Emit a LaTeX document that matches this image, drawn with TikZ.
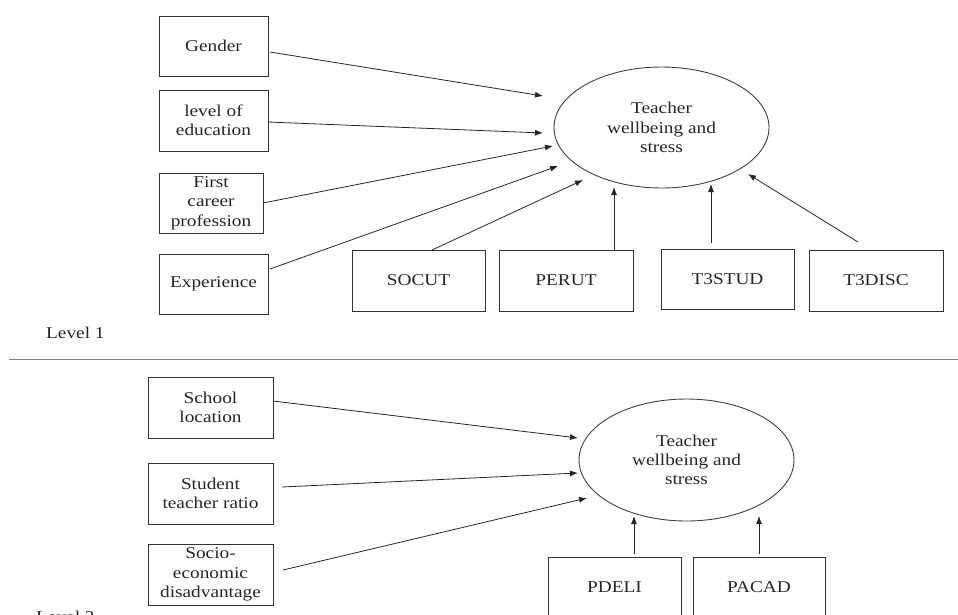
\documentclass[tikz,border=0pt]{standalone}
\usepackage{fontspec}
\setmainfont{Liberation Serif}[FakeStretch=1.17]
\usetikzlibrary{arrows.meta,calc,shapes.geometric}
\begin{document}
\begin{tikzpicture}[x=1pt,y=-1pt,
  every node/.style={font=\fontsize{16.5}{19.3}\selectfont, text=black!85},
  box/.style={draw=black!80, line width=0.9pt, rectangle, inner sep=0pt, outer sep=0pt, align=center},
  latent/.style={draw=black!75, line width=0.9pt, ellipse, inner sep=0pt, outer sep=0pt, align=center, minimum width=215pt, minimum height=121pt},
  arr/.style={draw=black!85, line width=0.8pt, -{Latex[length=8pt,width=6pt]}},
  lvl/.style={anchor=base west, inner sep=0pt}]
\useasboundingbox (0,0) rectangle (958,614);
\clip (0,0) rectangle (958,614);

% Level 1
\node[box, minimum width=109pt, minimum height=60pt] (gender) at (213.5,46) {Gender};
\node[box, minimum width=109pt, minimum height=61pt] (edu) at (213.5,120.5) {level of\\education};
\node[box, minimum width=104pt, minimum height=60pt] (first) at (211,203) {First\\career\\profession};
\node[box, minimum width=109pt, minimum height=60pt] (exp) at (213.5,284) {Experience};
\node[box, minimum width=133pt, minimum height=61pt] (socut) at (418.5,280.5) {SOCUT};
\node[box, minimum width=134pt, minimum height=61pt] (perut) at (566,280.5) {PERUT};
\node[box, minimum width=133pt, minimum height=60pt] (t3stud) at (727.5,279) {T3STUD};
\node[box, minimum width=134pt, minimum height=61pt] (t3disc) at (876,280.5) {T3DISC};
\node[latent] (e1) at (661.5,127.5) {Teacher\\wellbeing and\\stress};

\draw[arr] ($(gender.east)+(2,6)$) -- ($(e1.center)+(-118.5,-31.5)$);
\draw[arr] ($(edu.east)+(0,1.5)$) -- ($(e1.center)+(-118.5,5.5)$);
\draw[arr] (first.east) -- ($(e1.center)+(-108.5,18.5)$);
\draw[arr] ($(exp.east)+(2,-15)$) -- ($(e1.center)+(-103.5,38.5)$);
\draw[arr] ($(socut.north)+(13.5,0)$) -- ($(e1.center)+(-78.5,52.5)$);
\draw[arr] ($(perut.north)+(48,0)$) -- ($(e1.center)+(-47.5,59.5)$);
\draw[arr] ($(t3stud.north)+(-16.5,-6)$) -- ($(e1.center)+(49.5,56.5)$);
\draw[arr] ($(t3disc.north)+(-18,-8)$) -- ($(e1.center)+(86.5,46.5)$);

\node[lvl] (lv1) at (46,338) {Level 1};

% separator
\draw[draw=black!50, line width=1.4pt] (9,359.5) -- (958,359.5);

% Level 2
\node[box, minimum width=125pt, minimum height=61pt] (school) at (210.5,407.5) {School\\location};
\node[box, minimum width=125pt, minimum height=61pt] (student) at (210.5,493.5) {Student\\teacher ratio};
\node[box, minimum width=125pt, minimum height=61pt] (socio) at (210.5,574.5) {Socio-\\economic\\disadvantage};
\node[latent, minimum height=122pt] (e2) at (686.5,460) {Teacher\\wellbeing and\\stress};
\node[box, minimum width=133pt, minimum height=61pt] (pdeli) at (614.5,587.5) {PDELI};
\node[box, minimum width=132pt, minimum height=61pt] (pacad) at (759,587.5) {PACAD};

\draw[arr] ($(school.east)+(0,-6.5)$) -- ($(e2.center)+(-108.5,-22)$);
\draw[arr] ($(student.east)+(9,-6.5)$) -- ($(e2.center)+(-108.5,13)$);
\draw[arr] ($(socio.east)+(10,-4.5)$) -- ($(e2.center)+(-99.5,38)$);
\draw[arr] ($(pdeli.north)+(19.5,-3)$) -- ($(e2.center)+(-52.5,56)$);
\draw[arr] ($(pacad.north)+(0,-3)$) -- ($(e2.center)+(72.5,56)$);

\node[lvl] (lv2) at (36,622) {Level 2};
\end{tikzpicture}
\end{document}
